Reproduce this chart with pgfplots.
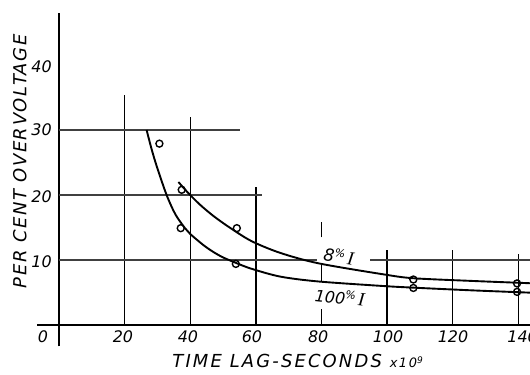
\documentclass[border=0pt]{standalone}
\usepackage{fontspec}
\setmainfont{DejaVu Sans}
\newfontfamily\serifI{Liberation Serif}
\usepackage{pgfplots}
\pgfplotsset{compat=1.18}
\newcommand{\tl}{\itshape\fontsize{16}{16}\selectfont}
\begin{document}
\begin{tikzpicture}
\begin{axis}[
 scale only axis, width=530bp, height=375bp,
 xmin=-17.98, xmax=143.55, ymin=-7.69, ymax=50,
 axis lines=none, clip=true,
]
% main axes
\addplot[black, line width=2.6pt] coordinates {(0,-3.3) (0,48)};
\addplot[black, line width=2.3pt] coordinates {(-6.7,0) (146,0)};
% vertical grid lines
\addplot[black, line width=1.3pt] coordinates {(20,0) (20,35.4)};
\addplot[black, line width=1.3pt] coordinates {(40,0) (40,32)};
\addplot[black, line width=1.3pt] coordinates {(60,0) (60,21.3)};
\addplot[black, line width=1.3pt] coordinates {(80,13.5) (80,15.9)};
\addplot[black, line width=1.3pt] coordinates {(80,6.6) (80,9.6)};
\addplot[black, line width=1.3pt] coordinates {(80,0) (80,2.4)};
\addplot[black, line width=1.3pt] coordinates {(100,0) (100,11.6)};
\addplot[black, line width=1.3pt] coordinates {(120,0) (120,11.6)};
\addplot[black, line width=1.3pt] coordinates {(140,0) (140,10.9)};
% horizontal grid lines
\addplot[black!75, line width=1.1pt] coordinates {(0,30) (55.2,30)};
\addplot[black!75, line width=1.1pt] coordinates {(0,20) (61.8,20)};
\addplot[black!75, line width=1.1pt] coordinates {(0,10) (78.6,10)};
\addplot[black!75, line width=1.1pt] coordinates {(94.8,10) (146,10)};
% 100% I curve
\addplot[black, line width=1.9pt, smooth, tension=0.5] coordinates {
 (26.7,30) (28.2,27.1) (29.8,24.4) (32.8,20) (35.5,17) (38.4,14.9) (40,14.0)
 (44,12.3) (47,11.25) (50,10.4) (54.2,9.5) (58.7,8.65) (67.4,7.45) (79,6.7)
 (98.8,6.0) (107.9,5.75) (125,5.35) (139.9,5.05) (145,4.95)};
% 8% I curve
\addplot[black, line width=1.9pt, smooth, tension=0.5] coordinates {
 (36.4,22) (39.4,20.3) (43,18.5) (47,16.8) (52,15.0) (58.7,12.9) (67.4,11.1)
 (79,9.5) (98.8,7.8) (107.9,7.2) (125,6.8) (139.9,6.5) (145,6.4)};
% observed points
\addplot[only marks, mark=o, mark size=3.5pt, mark options={line width=1.4pt, black}] coordinates {
 (30.6,27.9) (37.4,20.8) (37.1,14.9) (54.2,14.9) (53.9,9.4)
 (108.0,7.0) (108.0,5.7) (139.6,6.4) (139.6,5.1)};
% tick labels
\node[font=\tl] at (-5.3,39.7) {40};
\node[font=\tl] at (-5.3,30) {30};
\node[font=\tl] at (-5.3,19.7) {20};
\node[font=\tl] at (-5.3,9.7) {10};
\node[font=\tl] at (-4.9,-1.85) {0};
\node[font=\tl] at (19.5,-1.85) {20};
\node[font=\tl] at (39.3,-1.85) {40};
\node[font=\tl] at (58.8,-1.85) {60};
\node[font=\tl] at (79,-1.85) {80};
\node[font=\tl] at (100.3,-1.85) {100};
\node[font=\tl] at (120.1,-1.85) {120};
\node[font=\tl] at (141.3,-1.85) {140};
% axis titles
\node[rotate=90, font=\itshape\fontsize{18}{18}\selectfont\addfontfeatures{LetterSpace=9}] at (-11.9,25.2) {PER CENT OVERVOLTAGE};
\node[font=\itshape\fontsize{18}{18}\selectfont\addfontfeatures{LetterSpace=12}] at (72.8,-5.6) {TIME LAG-SECONDS {\fontsize{13}{13}\selectfont x10$^{\mathit{9}}$}};
% curve labels
\node[rotate=-8, font=\itshape\fontsize{17}{17}\selectfont] at (85.3,10.6) {8\raisebox{0.35em}{\fontsize{11}{11}\selectfont\%}\,{\serifI\fontsize{19}{19}\selectfont I}};
\node[rotate=-6, font=\itshape\fontsize{16}{16}\selectfont] at (85.6,4.3) {100\raisebox{0.35em}{\fontsize{11}{11}\selectfont\%}\,{\serifI\fontsize{19}{19}\selectfont I}};
\end{axis}
\pgfresetboundingbox
\useasboundingbox (current axis.south west) rectangle (current axis.north east);
\end{tikzpicture}
\end{document}
